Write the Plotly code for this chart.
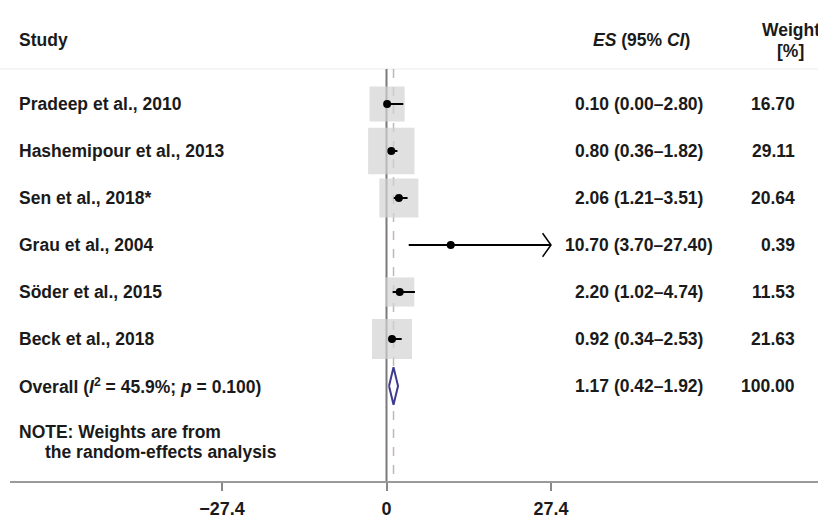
import plotly.graph_objects as go
import numpy as np

# ---------------- data ----------------
studies = ["Pradeep et al., 2010", "Hashemipour et al., 2013", "Sen et al., 2018*",
           "Grau et al., 2004", "Söder et al., 2015", "Beck et al., 2018"]
es = [0.10, 0.80, 2.06, 10.70, 2.20, 0.92]
ci_lo = [0.00, 0.36, 1.21, 3.70, 1.02, 0.34]
ci_hi = [2.80, 1.82, 3.51, 27.40, 4.74, 2.53]
weights = [16.70, 29.11, 20.64, 0.39, 11.53, 21.63]

overall_label = "Overall (<i>I</i><sup>2</sup> = 45.9%; <i>p</i> = 0.100)"
overall_es = 1.17
overall_lo = 0.42
overall_hi = 1.92
overall_weight = 100.00

note_lines = ["NOTE: Weights are from", "the random-effects analysis"]
tick_vals = [-27.4, 0, 27.4]
tick_text = ["\u221227.4", "0", "27.4"]

# ---------------- layout helpers ----------------
W, H = 818, 523
FONT = "Liberation Sans, Arial, sans-serif"
FS = 17.5
x_clip = 27.4

n = len(studies)
rows = list(range(1, n + 1))
overall_row = n + 1

def px(xpix):
    return xpix / W

fig = go.Figure()

# weight boxes (area proportional to weight)
box_sizes = [8.6 * np.sqrt(w) for w in weights]
fig.add_trace(go.Scatter(
    x=es, y=rows, mode="markers",
    marker=dict(symbol="square", size=box_sizes, color="#d3d3d3", line=dict(width=0)),
    hoverinfo="skip", showlegend=False))

# CI lines
cx, cy = [], []
for lo, hi, r in zip(ci_lo, ci_hi, rows):
    cx += [lo, min(hi, x_clip), None]
    cy += [r, r, None]
fig.add_trace(go.Scatter(x=cx, y=cy, mode="lines",
                         line=dict(color="black", width=2),
                         hoverinfo="skip", showlegend=False))

# arrow chevrons where CI reaches the axis limit
ax_, ay_ = [], []
for hi, r in zip(ci_hi, rows):
    if hi >= x_clip:
        ax_ += [x_clip - 1.4, x_clip, x_clip - 1.4, None]
        ay_ += [r - 0.25, r, r + 0.25, None]
fig.add_trace(go.Scatter(x=ax_, y=ay_, mode="lines",
                         line=dict(color="black", width=1.5),
                         hoverinfo="skip", showlegend=False))

# point estimates
fig.add_trace(go.Scatter(x=es, y=rows, mode="markers",
                         marker=dict(symbol="circle", size=8, color="black"),
                         hoverinfo="skip", showlegend=False))

# overall diamond
fig.add_trace(go.Scatter(
    x=[overall_lo, overall_es, overall_hi, overall_es, overall_lo],
    y=[overall_row, overall_row - 0.4, overall_row, overall_row + 0.4, overall_row],
    mode="lines", fill="toself", fillcolor="white",
    line=dict(color="#3d3b8e", width=2),
    hoverinfo="skip", showlegend=False))

# axis geometry
y_top_px, y_axis_px = 0, 481
row1_px, row_step = 104, 47
def row_at(pix):
    return 1 + (pix - row1_px) / row_step

y_range = [row_at(y_axis_px), row_at(y_top_px)]
line_top = row_at(69)

# reference lines
shapes = [
    dict(type="line", xref="paper", yref="y", x0=0, x1=1, y0=line_top, y1=line_top,
         line=dict(color="#ebebeb", width=1), layer="below"),
    dict(type="line", xref="x", yref="y", x0=0, x1=0, y0=line_top, y1=y_range[0],
         line=dict(color="#7a7a7a", width=2), layer="below"),
    dict(type="line", xref="x", yref="y", x0=overall_es, x1=overall_es, y0=line_top, y1=y_range[0],
         line=dict(color="#c4b6b6", width=1.5, dash="dash"), layer="below"),
]

ann = []
def txt(x, y, s, anchor="left", size=FS, color="#1a1a1a"):
    ann.append(dict(x=x, y=y, xref="paper", yref="y", text="<b>" + s + "</b>",
                    showarrow=False, xanchor=anchor, yanchor="middle",
                    font=dict(family=FONT, size=size, color=color)))

# header
txt(px(17), row_at(40), "Study")
txt(px(641), row_at(40), "<i>ES</i> (95% <i>CI</i>)", anchor="center")
txt(px(791), row_at(30), "Weight", anchor="center")
txt(px(790), row_at(51), "[%]", anchor="center")

for s, e, lo, hi, w, r in zip(studies, es, ci_lo, ci_hi, weights, rows):
    txt(px(17), r, s)
    txt(px(639), r, f"{e:.2f} ({lo:.2f}\u2013{hi:.2f})", anchor="center")
    txt(px(797), r, f"{w:.2f}", anchor="right")

txt(px(17), overall_row, overall_label)
txt(px(639), overall_row, f"{overall_es:.2f} ({overall_lo:.2f}\u2013{overall_hi:.2f})", anchor="center")
txt(px(797), overall_row, f"{overall_weight:.2f}", anchor="right")

txt(px(17), row_at(432), note_lines[0])
txt(px(43), row_at(452), note_lines[1])

# x axis mapping: -27.4 at 222px, 27.4 at 551px, axis line from 10px to 818px
scale = (551 - 222) / (tick_vals[2] - tick_vals[0])
zero_px = (551 + 222) / 2
x_range = [(10 - zero_px) / scale, (W - zero_px) / scale]

fig.update_layout(
    width=W, height=H,
    margin=dict(l=0, r=0, t=0, b=0),
    paper_bgcolor="white", plot_bgcolor="white",
    showlegend=False,
    shapes=shapes, annotations=ann,
    xaxis=dict(domain=[10 / W, 1], range=x_range, showgrid=False, zeroline=False,
               showline=True, linecolor="#9a9a9a", linewidth=2,
               ticks="outside", ticklen=8, tickwidth=1.5, tickcolor="#888888",
               tickvals=tick_vals, ticktext=tick_text, ticklabelstandoff=2,
               tickfont=dict(family=FONT, size=18, color="#1a1a1a", weight="bold"),
               fixedrange=True),
    yaxis=dict(domain=[(H - y_axis_px) / H, 1], range=y_range, visible=False,
               showgrid=False, zeroline=False, fixedrange=True),
)

fig.write_html("out.html", config={"displayModeBar": False},
               post_script="document.body.style.margin='0';document.body.style.overflow='hidden';")
